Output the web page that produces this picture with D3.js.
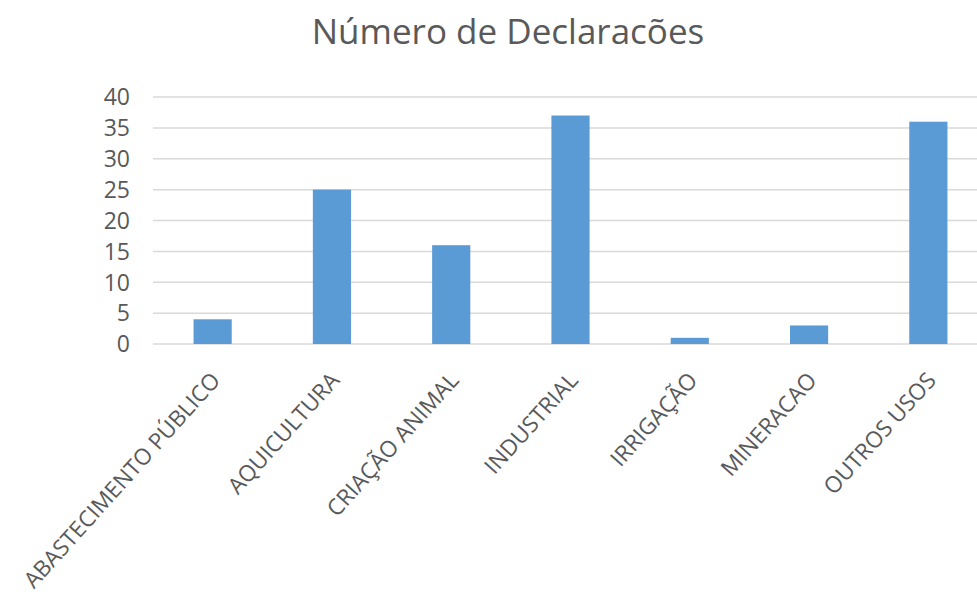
<!DOCTYPE html>
<html>
<head>
<meta charset="utf-8">
<script src="https://cdn.jsdelivr.net/npm/d3@7.9.0/dist/d3.min.js"></script>
<style>
  body { margin: 0; background: #fff; }
  svg { display: block; font-family: 'Open Sans', sans-serif; }
</style>
</head>
<body>
<svg id="chart" width="977" height="601"></svg>
<script>
// chart data
const title = 'Número de Declaracões';
const categories = [
  'ABASTECIMENTO PÚBLICO',
  'AQUICULTURA',
  'CRIAÇÃO ANIMAL',
  'INDUSTRIAL',
  'IRRIGAÇÃO',
  'MINERACAO',
  'OUTROS USOS'
];
const values = [4, 25, 16, 37, 1, 3, 36];
const yTicks = [0, 5, 10, 15, 20, 25, 30, 35, 40];

const svg = d3.select('#chart');

// plot area runs a bit past the right edge (the reference is cropped there)
const x = d3.scaleBand()
  .domain(categories)
  .range([153, 988])
  .paddingInner(0.68)
  .paddingOuter(0.34);

const y = d3.scaleLinear()
  .domain([0, 40])
  .range([344, 97]);

// gridlines
svg.append('g')
  .selectAll('line')
  .data(yTicks)
  .join('line')
  .attr('x1', 153)
  .attr('x2', 988)
  .attr('y1', d => y(d))
  .attr('y2', d => y(d))
  .attr('stroke', '#d9d9d9')
  .attr('stroke-width', 1.5);

// y tick labels
svg.append('g')
  .selectAll('text')
  .data(yTicks)
  .join('text')
  .attr('x', 130)
  .attr('y', d => y(d))
  .attr('dy', '0.36em')
  .attr('text-anchor', 'end')
  .attr('fill', '#595959')
  .attr('font-size', 23)
  .text(d => d);

// bars
svg.append('g')
  .selectAll('rect')
  .data(values)
  .join('rect')
  .attr('x', (d, i) => x(categories[i]))
  .attr('width', x.bandwidth())
  .attr('y', d => y(d))
  .attr('height', d => y(0) - y(d))
  .attr('fill', '#5b9bd5');

// x labels, rotated
svg.append('g')
  .selectAll('text')
  .data(categories)
  .join('text')
  .attr('transform', d => `translate(${x(d) + x.bandwidth() / 2 + 3},376) rotate(-48)`)
  .attr('dy', '0.35em')
  .attr('text-anchor', 'end')
  .attr('fill', '#595959')
  .attr('font-size', 22.5)
  .text(d => d);

// title
svg.append('text')
  .attr('x', 508)
  .attr('y', 44)
  .attr('text-anchor', 'middle')
  .attr('fill', '#595959')
  .attr('font-size', 35)
  .text(title);
</script>
</body>
</html>
